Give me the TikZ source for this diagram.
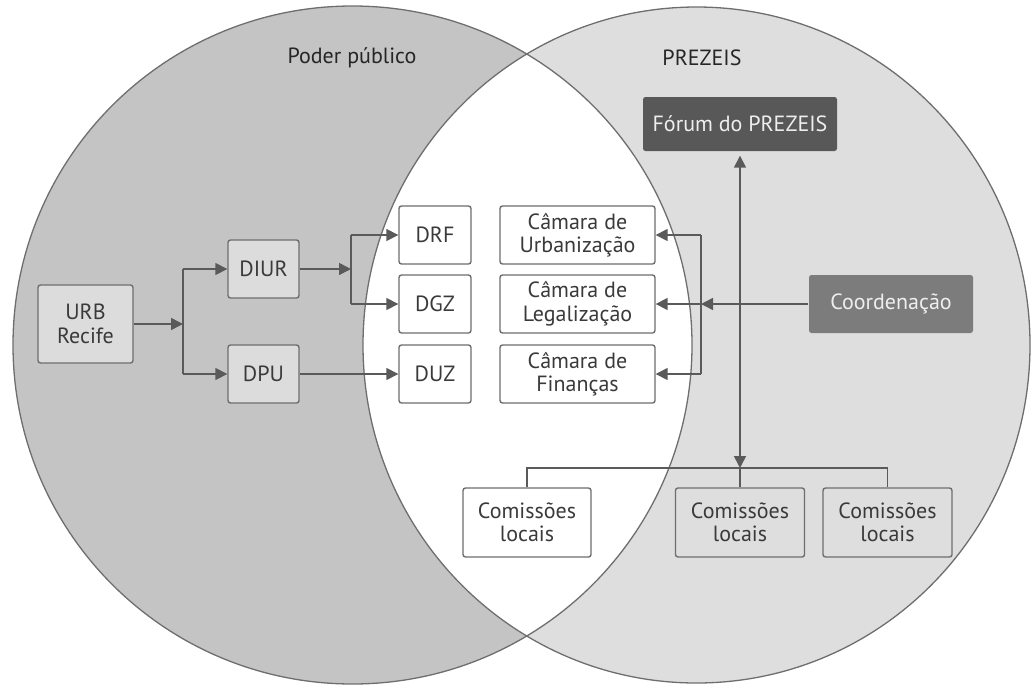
\documentclass[tikz,border=0pt]{standalone}
\usepackage{fontspec}
\setmainfont{PT Sans}
\usetikzlibrary{arrows.meta}
\definecolor{leftc}{HTML}{C4C4C4}
\definecolor{rightc}{HTML}{DEDEDE}
\definecolor{edgec}{HTML}{6E6E6E}
\definecolor{linec}{HTML}{5A5A5A}
\definecolor{boxl}{HTML}{DCDCDC}
\definecolor{txt}{HTML}{3A3A3A}
\definecolor{forumc}{HTML}{585858}
\definecolor{coordc}{HTML}{7C7C7C}
\definecolor{lighttxt}{HTML}{EEEEEE}
\begin{document}
\begin{tikzpicture}[x=1pt,y=-1pt,
  box/.style={draw=edgec, line width=1.4pt, rounded corners=2.5pt, align=center,
    text=txt, font=\fontsize{22}{23.5}\selectfont, inner sep=0pt},
  greybox/.style={box, fill=boxl},
  whitebox/.style={box, fill=white},
  rightbox/.style={box, fill=rightc},
  darkbox/.style={box, draw=none, text=lighttxt},
  conn/.style={draw=linec, line width=1.6pt},
  arr/.style={conn, -{Triangle[length=12pt,width=12pt]}},
  title/.style={font=\fontsize{22}{24}\selectfont, text=black!85}
]
\useasboundingbox (0,0) rectangle (1031,686);
% circles
\fill[leftc] (352.5,345) ellipse [x radius=339.5pt, y radius=339pt];
\fill[rightc] (696.5,345) ellipse [x radius=333.5pt, y radius=338pt];
\begin{scope}
  \clip (352.5,345) ellipse [x radius=339.5pt, y radius=339pt];
  \fill[white] (696.5,345) ellipse [x radius=333.5pt, y radius=338pt];
\end{scope}
\draw[edgec, line width=1.3pt] (352.5,345) ellipse [x radius=339.5pt, y radius=339pt];
\draw[edgec, line width=1.3pt] (696.5,345) ellipse [x radius=333.5pt, y radius=338pt];

% titles
\node[title] (pp) at (352,58) {Poder público};
\node[title] (pz) at (702,58) {PREZEIS};

% boxes left
\node[greybox, minimum width=95pt, minimum height=78pt] (urb) at (85.5,324) {URB\\Recife};
\node[greybox, minimum width=71pt, minimum height=58pt] (diur) at (263.5,269) {DIUR};
\node[greybox, minimum width=71pt, minimum height=58pt] (dpu) at (263.5,374) {DPU};

% boxes lens
\node[whitebox, minimum width=72pt, minimum height=58pt] (drf) at (435,235) {DRF};
\node[whitebox, minimum width=72pt, minimum height=58pt] (dgz) at (435,304) {DGZ};
\node[whitebox, minimum width=72pt, minimum height=58pt] (duz) at (435,374) {DUZ};
\node[whitebox, minimum width=155pt, minimum height=58pt] (cu) at (577.5,235) {Câmara de\\Urbanização};
\node[whitebox, minimum width=155pt, minimum height=58pt] (cl) at (577.5,304) {Câmara de\\Legalização};
\node[whitebox, minimum width=155pt, minimum height=58pt] (cf) at (577.5,374) {Câmara de\\Finanças};

% right
\node[darkbox, fill=forumc, minimum width=194pt, minimum height=54pt] (forum) at (740,124) {Fórum do PREZEIS};
\node[darkbox, fill=coordc, minimum width=164pt, minimum height=58pt] (coord) at (891,304) {Coordenação};

% comissoes
\node[whitebox, minimum width=128pt, minimum height=69pt] (cm1) at (527,522.5) {Comissões\\locais};
\node[rightbox, minimum width=129pt, minimum height=69pt] (cm2) at (740,522.5) {Comissões\\locais};
\node[rightbox, minimum width=129pt, minimum height=69pt] (cm3) at (887.5,522.5) {Comissões\\locais};

% junctions
\coordinate (j1) at (183,324);
\coordinate (j1a) at (183,269);
\coordinate (j1b) at (183,374);
\coordinate (j2) at (351,269);
\coordinate (j2a) at (351,235);
\coordinate (j2b) at (351,304);
\coordinate (b1) at (701,235);
\coordinate (b2) at (701,304);
\coordinate (b3) at (701,374);
\coordinate (h1) at (527,468);
\coordinate (h2) at (740,468);
\coordinate (h3) at (887.5,468);

% connectors left
\draw[arr] (urb.east) -- (j1);
\draw[conn] (j1a) -- (j1b);
\draw[arr] (j1a) -- (diur.west);
\draw[arr] (j1b) -- (dpu.west);
\draw[arr] (diur.east) -- (j2);
\draw[conn] (j2a) -- (j2b);
\draw[arr] (j2a) -- (drf.west);
\draw[arr] (j2b) -- (dgz.west);
\draw[arr] (dpu.east) -- (duz.west);

% bracket
\draw[conn] (b1) -- (b3);
\draw[arr] (b1) -- (cu.east);
\draw[arr] (b2) -- (cl.east);
\draw[arr] (b3) -- (cf.east);
\draw[arr] (coord.west) -- (b2);

% forum vertical
\draw[conn, {Triangle[length=12pt,width=12pt]}-{Triangle[length=12pt,width=12pt]}, shorten <=4pt] (forum.south) -- (h2);
\draw[conn] (cm1.north) -- (h1) -- (h3) -- (cm3.north);
\draw[conn] (h2) -- (cm2.north);
\end{tikzpicture}
\end{document}
